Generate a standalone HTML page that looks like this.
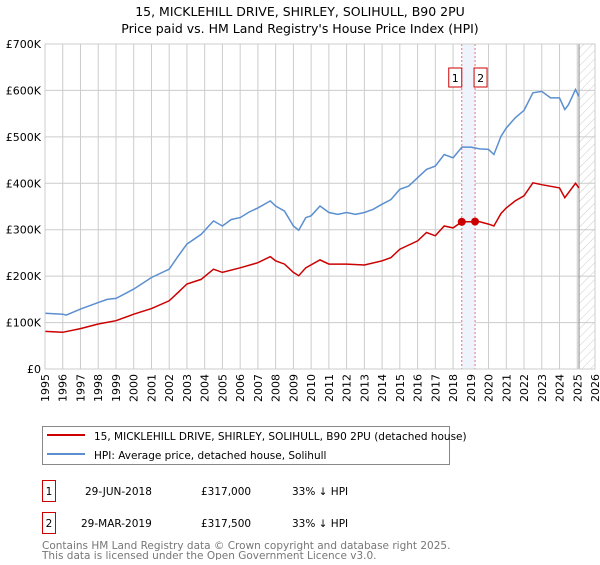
<!DOCTYPE html>
<html><head><meta charset="utf-8"><style>
body{margin:0;background:#fff;font-family:"Liberation Sans","DejaVu Sans",sans-serif;}
svg text{font-family:"DejaVu Sans","Liberation Sans",sans-serif;}
</style></head><body>
<svg id="chart" width="600" height="560" xmlns="http://www.w3.org/2000/svg">
<defs><pattern id="hatch" width="6" height="6" patternUnits="userSpaceOnUse" patternTransform="rotate(45)"><line x1="0" y1="0" x2="0" y2="6" stroke="#ccc" stroke-width="1"/></pattern></defs>
<text x="300" y="16" text-anchor="middle" font-size="12.5" fill="#000">15, MICKLEHILL DRIVE, SHIRLEY, SOLIHULL, B90 2PU</text>
<text x="300" y="33" text-anchor="middle" font-size="12.5" fill="#000">Price paid vs. HM Land Registry's House Price Index (HPI)</text>
<g id="grid"></g>
<g id="marks"></g>
<g id="series"></g>
<g id="axes"></g>
<rect x="42.5" y="426.5" width="407" height="38" fill="#fff" stroke="#888"/>
<line x1="47" y1="435" x2="85" y2="435" stroke="#cc0000" stroke-width="2"/>
<text x="94" y="440" font-size="10.5">15, MICKLEHILL DRIVE, SHIRLEY, SOLIHULL, B90 2PU (detached house)</text>
<line x1="47" y1="454" x2="85" y2="454" stroke="#5b8fd0" stroke-width="2"/>
<text x="94" y="459" font-size="10.5">HPI: Average price, detached house, Solihull</text>
<g font-size="10.5">
<rect x="42.5" y="480.5" width="13" height="21" fill="#fff" stroke="#cc0000"/><text x="49" y="495" text-anchor="middle">1</text>
<text x="85" y="495">29-JUN-2018</text><text x="201" y="495">£317,000</text><text x="292" y="495">33% ↓ HPI</text></g>
<g font-size="10.5">
<rect x="42.5" y="512.5" width="13" height="21" fill="#fff" stroke="#cc0000"/><text x="49" y="527" text-anchor="middle">2</text>
<text x="81" y="527">29-MAR-2019</text><text x="201" y="527">£317,500</text><text x="292" y="527">33% ↓ HPI</text></g>
<text x="42" y="549" font-size="10.5" fill="#777">Contains HM Land Registry data © Crown copyright and database right 2025.</text>
<text x="42" y="559" font-size="10.5" fill="#777">This data is licensed under the Open Government Licence v3.0.</text>
</svg>
<script>
const yTicks=[0,100,200,300,400,500,600,700];
const yTickLabels=["£0","£100K","£200K","£300K","£400K","£500K","£600K","£700K"];
const xYears=[1995,1996,1997,1998,1999,2000,2001,2002,2003,2004,2005,2006,2007,2008,2009,2010,2011,2012,2013,2014,2015,2016,2017,2018,2019,2020,2021,2022,2023,2024,2025,2026];
const hpiT=[1995,1996,1996.2,1997,1998,1998.5,1999,2000,2001,2002,2002.5,2003,2003.8,2004.5,2005,2005.5,2006,2006.5,2007,2007.7,2008,2008.5,2009,2009.3,2009.7,2010,2010.5,2011,2011.5,2012,2012.5,2013,2013.5,2014,2014.5,2015,2015.5,2016,2016.5,2017,2017.5,2018,2018.5,2019,2019.5,2020,2020.3,2020.7,2021,2021.5,2022,2022.5,2023,2023.5,2024,2024.3,2024.5,2024.9,2025.1];
const hpiV=[120,118,116,129,143,150,152,172,197,215,243,269,290,319,308,322,326,338,347,362,351,340,308,299,326,330,351,337,333,337,333,337,344,355,365,387,394,412,430,437,462,455,478,478,474,473,462,501,519,541,557,595,598,584,584,559,569,602,587];
const propT=[1995,1996,1997,1998,1999,2000,2001,2002,2002.5,2003,2003.8,2004.5,2005,2006,2007,2007.7,2008,2008.5,2009,2009.3,2009.7,2010.5,2011,2012,2013,2014,2014.5,2015,2016,2016.5,2017,2017.5,2018,2018.5,2019.24,2019.5,2020,2020.3,2020.7,2021,2021.5,2022,2022.5,2023,2024,2024.3,2024.9,2025.1];
const propV=[81,79,87,97,104,118,130,147,165,183,193,215,208,218,229,242,233,226,208,201,218,235,226,226,224,233,240,258,276,294,287,308,304,317,317,317,312,308,335,347,362,373,401,397,390,369,400,390];
const saleT=[2018.49,2019.24];
const saleV=[317,317.5];
const saleLabels=["1","2"];
const X0=45,X1=595,Y0=369,Y1=44;
const xs=t=>X0+(t-1995)*(X1-X0)/31;
const ys=v=>Y0-v*(Y0-Y1)/700;
const NS="http://www.w3.org/2000/svg";
function mk(tag,attrs,parent){const e=document.createElementNS(NS,tag);for(const k in attrs)e.setAttribute(k,attrs[k]);parent.appendChild(e);return e;}
const grid=document.getElementById('grid'),axes=document.getElementById('axes'),marks=document.getElementById('marks'),series=document.getElementById('series');
yTicks.forEach((v,i)=>{
 const l=mk('line',{x1:X0,x2:X1,y1:ys(v),y2:ys(v),stroke:'#ccc'},grid);
 
 
 const t=mk('text',{x:X0-4,y:ys(v)+4,'text-anchor':'end','font-size':'11'},axes);
 t.textContent=yTickLabels[i];
 
 
});
xYears.forEach(yr=>{
 const l=mk('line',{x1:xs(yr),x2:xs(yr),y1:Y1,y2:Y0,stroke:'#ccc'},grid);
 
 
 const px=xs(yr)+4,py=Y0+5;
 const t=mk('text',{x:px,y:py,'text-anchor':'end','font-size':'11',transform:'rotate(-90 '+px+' '+py+')'},axes);
 t.textContent=yr;
 
 
});
const hr=mk('rect',{x:xs(2025.1),y:Y1,width:X1-xs(2025.1),height:Y0-Y1,fill:'url(#hatch)'},grid);


const hl=mk('line',{x1:xs(2025.1),x2:xs(2025.1),y1:Y1,y2:Y0,stroke:'#888'},grid);


const band=mk('rect',{x:xs(saleT[0]),y:Y1,width:xs(saleT[1])-xs(saleT[0]),height:Y0-Y1,fill:'#eef3fc'},marks);


saleT.forEach((t,i)=>{
 const l=mk('line',{x1:xs(t),x2:xs(t),y1:Y1,y2:Y0,stroke:'#f07070','stroke-dasharray':'2,2'},marks);
 
 
 const bx=i===0?xs(t)-13:xs(t)-1;
 const r=mk('rect',{x:bx,y:68,width:13,height:19,fill:'#fff',stroke:'#cc0000'},marks);
 
 
 const tx=mk('text',{x:bx+6.5,y:82,'text-anchor':'middle','font-size':'11'},marks);
 tx.textContent=saleLabels[i];
 
 
});
const path=(T,V)=>T.map((t,i)=>(i?'L':'M')+xs(t).toFixed(1)+','+ys(V[i]).toFixed(1)).join('');
const hp=mk('path',{d:path(hpiT,hpiV),fill:'none',stroke:'#5b8fd0','stroke-width':1.5},series);


const pp=mk('path',{d:path(propT,propV),fill:'none',stroke:'#cc0000','stroke-width':1.5},series);


saleT.forEach((t,i)=>{
 const c=mk('circle',{cx:xs(t),cy:ys(saleV[i]),r:4,fill:'#cc0000'},series);
 
 
});
const fr=mk('rect',{x:X0,y:Y1,width:X1-X0,height:Y0-Y1,fill:'none',stroke:'#ccc'},axes);


</script>
</body></html>
